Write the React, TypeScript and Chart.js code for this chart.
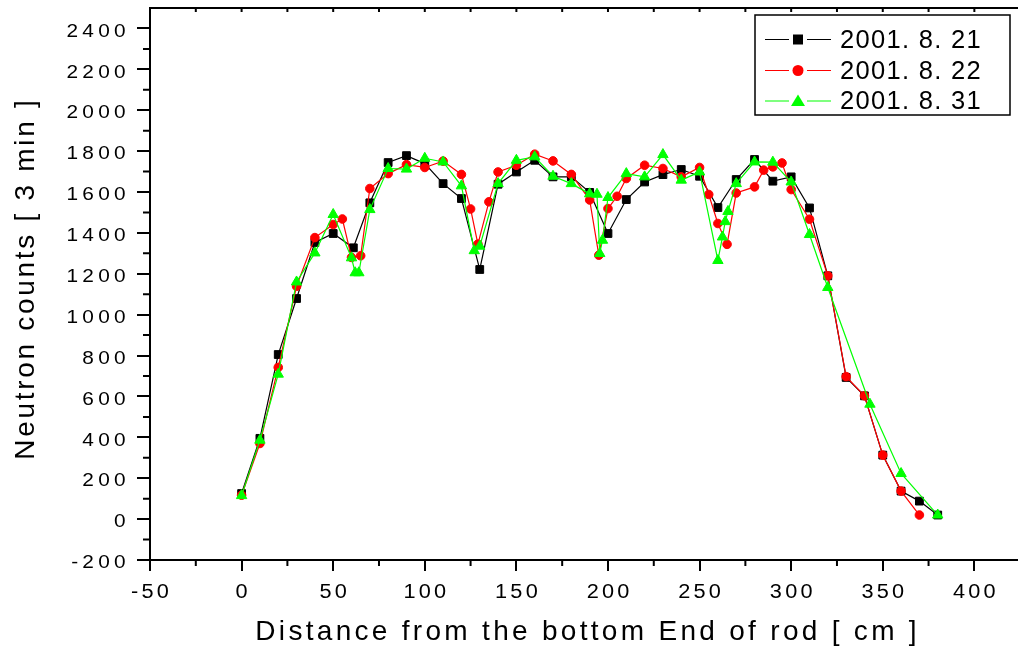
import { useEffect, useRef } from "react";
import { Chart, registerables } from "chart.js";

Chart.register(...registerables);

// Neutron count profiles along the rod, three measurement days
const dist0821 = [0, 10, 20, 30, 40, 50, 61, 70, 80, 90, 100, 110, 120, 130, 140, 150, 160, 170, 180, 190, 200, 210, 220, 230, 240, 250, 260, 270, 280, 290, 300, 310, 320, 330, 340, 350, 360, 370, 380];
const counts0821 = [125, 395, 805, 1079, 1353, 1397, 1327, 1547, 1744, 1778, 1739, 1641, 1568, 1221, 1638, 1698, 1755, 1674, 1674, 1598, 1397, 1563, 1649, 1685, 1710, 1677, 1524, 1661, 1759, 1653, 1674, 1522, 1190, 693, 603, 313, 137, 88, 20];

const dist0822 = [0, 10, 20, 30, 40, 50, 55, 60, 65, 70, 80, 90, 100, 110, 120, 125, 129, 135, 140, 150, 160, 170, 180, 190, 195, 200, 205, 210, 220, 230, 240, 250, 255, 260, 265, 270, 280, 285, 290, 295, 300, 310, 320, 330, 340, 350, 360, 370];
const counts0822 = [117, 370, 742, 1139, 1377, 1441, 1468, 1280, 1288, 1617, 1690, 1734, 1720, 1751, 1686, 1517, 1345, 1552, 1698, 1731, 1785, 1752, 1686, 1561, 1291, 1519, 1579, 1666, 1731, 1715, 1674, 1720, 1588, 1446, 1344, 1595, 1625, 1707, 1723, 1742, 1612, 1467, 1190, 697, 603, 313, 137, 20];

const dist0831 = [0, 10, 20, 30, 40, 50, 60, 62, 64, 70, 80, 90, 100, 110, 120, 127, 130, 140, 150, 160, 170, 180, 190, 194, 195.5, 197, 200, 210, 220, 230, 240, 250, 260, 262.5, 264, 265.5, 270, 280, 290, 300, 310, 320, 343, 360, 380];
const counts0831 = [115, 386, 709, 1160, 1302, 1490, 1278, 1205, 1205, 1514, 1715, 1712, 1765, 1747, 1630, 1313, 1335, 1641, 1755, 1772, 1677, 1641, 1591, 1589, 1299, 1364, 1573, 1690, 1674, 1783, 1658, 1698, 1265, 1380, 1455, 1505, 1641, 1747, 1746, 1649, 1392, 1133, 562, 223, 20];

const seriesLabels = ["2001. 8. 21", "2001. 8. 22", "2001. 8. 31"];
const seriesColors = ["#000000", "#ff0000", "#00ff00"];
const seriesMarkers = ["rect", "circle", "triangle"];

const xTitle = "Distance from the bottom End of rod [ cm ]";
const yTitle = "Neutron counts [ 3 min ]";

const X_MIN = -50;
const X_MAX = 420;
const X_STEP = 50;
const Y_MIN = -200;
const Y_MAX = 2500;
const Y_STEP = 200;

const FONT = '"Liberation Sans", Arial, Helvetica, sans-serif';

const toPoints = (xs: number[], ys: number[]) => xs.map((x, i) => ({ x, y: ys[i] }));

// Spaced lettering with an optional horizontal stretch; the trailing gap that
// letter-spacing leaves after the last glyph is compensated for the alignment.
function spacedText(
  ctx: CanvasRenderingContext2D,
  text: string,
  x: number,
  y: number,
  size: number,
  stretch: number,
  spacing: number,
  align: CanvasTextAlign,
  angle = 0
) {
  ctx.save();
  ctx.translate(x, y);
  if (angle) ctx.rotate(angle);
  const shift = align === "right" ? spacing : align === "center" ? spacing / 2 : 0;
  ctx.translate(shift, 0);
  ctx.scale(stretch, 1);
  ctx.font = `${size}px ${FONT}`;
  (ctx as any).letterSpacing = `${spacing / stretch}px`;
  ctx.textAlign = align;
  ctx.textBaseline = "alphabetic";
  ctx.fillStyle = "#000";
  ctx.fillText(text, 0, 0);
  ctx.restore();
}

function drawMarker(ctx: CanvasRenderingContext2D, kind: string, x: number, y: number, color: string) {
  ctx.save();
  ctx.fillStyle = color;
  ctx.beginPath();
  if (kind === "rect") {
    ctx.rect(x - 5, y - 5, 10, 10);
  } else if (kind === "circle") {
    ctx.arc(x, y, 5.5, 0, Math.PI * 2);
  } else {
    ctx.moveTo(x, y - 6.5);
    ctx.lineTo(x + 7, y + 5);
    ctx.lineTo(x - 7, y + 5);
    ctx.closePath();
  }
  ctx.fill();
  ctx.restore();
}

const framePlugin = {
  id: "frame",
  afterDraw(chart: any) {
    const { ctx, chartArea: a, scales } = chart;
    const xs = scales.x;
    const ys = scales.y;
    const W = chart.width;

    ctx.save();
    ctx.strokeStyle = "#000";
    ctx.lineWidth = 2;
    ctx.lineCap = "butt";

    ctx.beginPath();
    // top axis and the run-out of the bottom axis
    ctx.moveTo(a.left - 1, a.top);
    ctx.lineTo(W, a.top);
    ctx.moveTo(a.right, a.bottom);
    ctx.lineTo(W, a.bottom);
    // minor ticks, left axis
    for (let v = Y_MIN + Y_STEP / 2; v < Y_MAX; v += Y_STEP) {
      const y = ys.getPixelForValue(v);
      ctx.moveTo(a.left - 7, y);
      ctx.lineTo(a.left, y);
    }
    // minor ticks, bottom axis
    for (let v = X_MIN + X_STEP / 2; v < X_MAX; v += X_STEP) {
      const x = xs.getPixelForValue(v);
      ctx.moveTo(x, a.bottom);
      ctx.lineTo(x, a.bottom + 6);
    }
    // inward ticks on the top axis
    for (let v = X_MIN + X_STEP / 2; v <= X_MAX; v += X_STEP / 2) {
      const x = xs.getPixelForValue(v);
      ctx.moveTo(x, a.top);
      ctx.lineTo(x, a.top + 4);
    }
    ctx.stroke();

    // tick labels
    ys.ticks.forEach((t: any) => {
      const y = ys.getPixelForValue(t.value);
      spacedText(ctx, String(t.value), 125.5, y + 8.2, 18.6, 1.12, 4.2, "right");
    });
    xs.ticks.forEach((t: any) => {
      const x = xs.getPixelForValue(t.value);
      spacedText(ctx, String(t.value), x, 597.5, 20.5, 1.06, 3.2, "center");
    });

    // axis titles
    spacedText(ctx, xTitle, 586, 640, 28, 1.0, 3.3, "center");
    spacedText(ctx, yTitle, 33.5, 280, 28, 1.0, 2.7, "center", -Math.PI / 2);

    // legend
    const box = { l: 755, t: 15, r: 1010, b: 115 };
    ctx.fillStyle = "#fff";
    ctx.fillRect(box.l, box.t, box.r - box.l, box.b - box.t);
    ctx.lineWidth = 1.5;
    ctx.strokeRect(box.l, box.t, box.r - box.l, box.b - box.t);
    const rowY = [39.5, 70.5, 101];
    seriesLabels.forEach((label, i) => {
      const y = rowY[i];
      ctx.strokeStyle = seriesColors[i];
      ctx.lineWidth = 1.2;
      ctx.beginPath();
      ctx.moveTo(765, y);
      ctx.lineTo(789, y);
      ctx.moveTo(807, y);
      ctx.lineTo(831, y);
      ctx.stroke();
      drawMarker(ctx, seriesMarkers[i], 798, y, seriesColors[i]);
      spacedText(ctx, label, 840, y + 8.3, 25.5, 1.0, 1.3, "left");
    });

    ctx.restore();
  },
};

export default function App() {
  const canvasRef = useRef<HTMLCanvasElement | null>(null);

  useEffect(() => {
    const canvas = canvasRef.current;
    if (!canvas) return;

    const datasets = [
      { d: toPoints(dist0821, counts0821), r: 5.5, order: 3 },
      { d: toPoints(dist0822, counts0822), r: 4.3, order: 2 },
      { d: toPoints(dist0831, counts0831), r: 6, order: 1 },
    ].map((s, i) => ({
      label: seriesLabels[i],
      data: s.d,
      borderColor: seriesColors[i],
      backgroundColor: seriesColors[i],
      borderWidth: 1.2,
      pointStyle: seriesMarkers[i] as any,
      pointRadius: s.r,
      pointBorderWidth: 1,
      pointBorderColor: seriesColors[i],
      pointBackgroundColor: seriesColors[i],
      tension: 0,
      fill: false,
      order: s.order,
    }));

    const chart = new Chart(canvas, {
      type: "line",
      data: { datasets },
      options: {
        animation: false,
        responsive: false,
        events: [],
        layout: { padding: { top: 8, right: 3, left: 0, bottom: 0 } },
        plugins: {
          legend: { display: false },
          tooltip: { enabled: false },
        },
        scales: {
          x: {
            type: "linear",
            min: X_MIN,
            max: X_MAX,
            afterFit: (s: any) => {
              s.height = 88;
            },
            ticks: { stepSize: X_STEP, includeBounds: false, display: false },
            grid: {
              display: true,
              drawOnChartArea: false,
              drawTicks: true,
              tickLength: 11,
              color: "#000",
              lineWidth: 2,
            },
            border: { display: true, color: "#000", width: 2 },
          },
          y: {
            type: "linear",
            min: Y_MIN,
            max: Y_MAX,
            afterFit: (s: any) => {
              s.width = 150;
            },
            ticks: { stepSize: Y_STEP, includeBounds: false, display: false },
            grid: {
              display: true,
              drawOnChartArea: false,
              drawTicks: true,
              tickLength: 13,
              color: "#000",
              lineWidth: 2,
            },
            border: { display: true, color: "#000", width: 2 },
          },
        },
      },
      plugins: [framePlugin],
    });

    return () => chart.destroy();
  }, []);

  return (
    <div style={{ position: "fixed", left: 0, top: 0, width: 1018, height: 648, background: "#fff" }}>
      <canvas ref={canvasRef} width={1018} height={648} style={{ display: "block" }} />
    </div>
  );
}
